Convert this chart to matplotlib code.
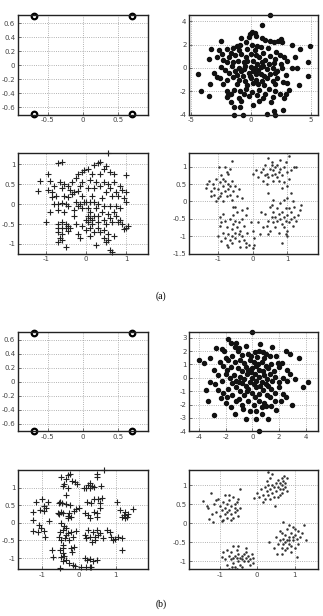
import numpy as np
import matplotlib
matplotlib.use('Agg')
import matplotlib.pyplot as plt
from matplotlib.ticker import FormatStrFormatter

# corner points (top-left panels of (a) and (b))
corner_x = [-0.7, 0.7, -0.7, 0.7]
corner_y = [0.7, 0.7, -0.7, -0.7]

# (a) top-right: filled dots
a2_pts = [(1.6,4.5),(0.9,3.7),(-0.1,2.9),(0.1,3.05),(0.3,3.0),(-0.2,2.65),(0.4,2.7),(-0.8,2.6),(0.9,2.55),(1.2,2.4),
          (2.5,2.5),(2.3,2.3),(-2.5,2.3),(1.6,2.3),(2.6,2.2),(-1.5,1.7),(-1.2,1.9),(-0.9,2.0),(-0.4,2.2),(0.1,2.0),
          (0.5,1.9),(0.8,1.8),(1.9,2.2),(1.4,1.7),(3.4,2.0),(-3.3,1.6),(-2.7,1.5),(-2.0,1.6),(-1.0,1.5),(-0.3,1.6),
          (0.3,1.5),(1.0,1.3),(2.1,1.4),(4.1,1.6),(4.9,1.9),(-2.4,1.2),(-1.7,1.3),(-2.85,0.95),(-3.5,0.8),(-2.3,0.7),
          (-1.8,0.9),(-1.3,1.1),(-0.8,1.2),(-0.4,0.9),(0.0,1.2),(0.4,1.1),(0.7,0.9),(1.2,0.7),(1.6,1.0),(2.0,0.8),
          (2.4,1.1),(2.8,0.9),(3.7,0.9),(3.0,0.6),(-1.1,0.6),(-0.6,0.5),(0.2,0.6),(0.9,0.5),(1.5,0.3),(-2.0,0.5),
          (2.5,0.3),(4.8,0.5),(-2.5,0.1),(-2.2,-0.2),(-1.6,0.2),(-1.0,0.0),(-0.5,0.2),(0.0,0.1),(0.3,0.0),(0.6,-0.2),
          (1.0,0.2),(1.3,-0.1),(1.8,0.0),(2.2,-0.3),(2.6,0.0),(3.4,0.0),(3.85,0.0),(-4.4,-0.5),(-3.1,-0.4),(-1.8,-0.4),
          (-1.3,-0.3),(-0.8,-0.3),(-0.2,-0.4),(0.2,-0.3),(0.8,-0.5),(1.6,-0.5),(2.0,-0.4),(-0.6,-0.1),(0.5,0.3),(4.8,-0.65),
          (-2.8,-0.8),(2.9,-0.6),(-2.6,-0.9),(-2.0,-1.0),(-1.5,-0.8),(-1.0,-1.0),(-0.5,-1.1),(0.0,-0.9),(0.4,-1.0),(0.9,-1.1),
          (1.3,-0.9),(1.8,-1.1),(2.2,-0.9),(2.7,-1.2),(-3.4,-1.4),(-2.3,-1.4),(-1.2,-1.4),(-0.3,-1.5),(0.6,-1.4),(1.1,-1.5),
          (2.0,-1.4),(4.0,-1.5),(3.0,-1.3),(-0.7,-0.7),(0.2,-1.3),(-2.0,-2.0),(-1.9,-2.3),(-1.7,-2.2),(-1.4,-1.9),(-0.9,-2.0),
          (-0.4,-1.8),(0.1,-2.1),(0.7,-1.9),(1.2,-2.2),(1.5,-1.8),(2.0,-2.0),(2.4,-2.2),(3.2,-1.85),(2.9,-2.25),(-4.2,-2.0),
          (-3.5,-2.4),(-2.0,-2.5),(-1.0,-2.6),(-0.2,-2.4),(0.5,-2.3),(1.0,-2.6),(1.8,-2.5),(2.8,-2.6),(-0.6,-2.2),(-1.4,-3.35),
          (-0.9,-3.3),(0.2,-3.2),(-1.4,-4.0),(-0.7,-4.0),(1.3,-3.9),(1.9,-3.7),(2.7,-3.6),(2.0,-4.0),(-0.8,-2.8),(0.7,-2.8),
          (1.7,-2.9),(-1.7,-2.9),(-0.3,0.6),(0.8,0.1),(-1.2,-0.6),(1.1,-0.7),(-0.1,-0.7),(0.4,-0.5),(-1.5,0.5),(1.9,0.4)]

# (a) bottom-left: plus markers
a3_pts = [(0.55,1.28),(-0.7,1.02),(-0.6,1.06),(0.35,1.05),(0.3,1.02),(0.2,0.97),(0.5,0.95),(0.05,0.88),(-0.05,0.85),(0.45,0.88),
          (0.6,0.8),(0.7,0.75),(-0.95,0.75),(-0.2,0.75),(-0.1,0.8),(0.15,0.75),(0.35,0.75),(1.0,0.73),(-1.15,0.57),(-0.9,0.57),
          (-0.65,0.55),(-0.55,0.5),(-0.35,0.55),(-0.25,0.65),(-0.1,0.55),(0.1,0.6),(0.25,0.55),(0.45,0.55),(0.55,0.5),(0.7,0.55),
          (0.85,0.45),(-0.8,0.45),(-0.6,0.4),(-0.45,0.45),(-0.15,0.45),(0.05,0.4),(0.2,0.4),(0.35,0.45),(0.6,0.4),(0.9,0.35),
          (1.0,0.3),(-1.2,0.33),(-0.95,0.35),(-0.85,0.3),(-0.4,0.35),(-0.3,0.3),(-0.2,0.33),(-0.35,0.25),(0.5,0.3),(0.75,0.3),
          (-0.85,0.18),(-0.75,0.2),(-0.55,0.2),(-0.45,0.18),(-0.1,0.2),(0.15,0.2),(0.4,0.15),(0.65,0.2),(0.8,0.2),(0.95,0.15),
          (1.0,0.05),(-0.8,0.0),(-0.7,0.0),(-0.6,0.02),(-0.5,0.0),(-0.45,-0.05),(-0.25,0.05),(-0.15,0.0),(-0.05,0.05),(0.0,0.05),
          (0.1,0.05),(0.2,0.05),(0.3,0.0),(-0.2,-0.05),(-0.1,-0.1),(0.05,-0.1),(0.25,-0.1),(0.45,-0.05),(0.6,-0.05),(0.75,-0.05),
          (0.85,-0.1),(-0.9,-0.2),(-0.7,-0.15),(-0.55,-0.2),(-0.3,-0.15),(0.1,-0.2),(0.4,-0.2),(0.55,-0.25),(0.7,-0.2),(0.05,-0.3),
          (0.1,-0.35),(0.15,-0.4),(0.2,-0.3),(0.3,-0.3),(0.45,-0.4),(0.6,-0.35),(0.75,-0.3),(0.85,-0.4),(-0.3,-0.3),(0.0,-0.4),
          (0.05,-0.45),(0.15,-0.5),(0.3,-0.45),(0.5,-0.5),(0.65,-0.45),(0.8,-0.45),(0.9,-0.5),(-1.0,-0.45),(-0.7,-0.5),(-0.6,-0.45),
          (-0.5,-0.5),(-0.45,-0.55),(-0.25,-0.5),(-0.1,-0.55),(0.3,-0.6),(0.45,-0.65),(1.0,-0.6),(1.05,-0.55),(0.95,-0.62),(-0.7,-0.6),
          (-0.6,-0.6),(-0.5,-0.6),(-0.4,-0.6),(0.0,-0.65),(0.1,-0.6),(0.2,-0.7),(0.35,-0.7),(0.55,-0.75),(0.7,-0.8),(-0.7,-0.7),
          (-0.6,-0.75),(-0.45,-0.68),(-0.2,-0.75),(0.1,-0.8),(-0.65,-0.85),(-0.6,-0.9),(-0.7,-0.95),(-0.15,-0.85),(0.45,-0.85),(0.55,-0.9),
          (-0.5,-1.08),(0.25,-1.02),(0.6,-1.15),(0.65,-1.2),(0.5,-0.95)]

# (a) bottom-right: small dots, four loose groups
a4_pts = [(-1.35,0.4),(-1.25,0.6),(-1.2,0.3),(-1.15,0.5),(-1.1,0.2),(-1.05,0.65),(-1.0,0.35),(-1.0,0.1),(-0.95,0.55),(-0.9,0.25),
          (-0.9,0.75),(-0.85,0.45),(-0.85,0.0),(-0.8,0.6),(-0.8,0.3),(-0.75,0.15),(-0.75,0.85),(-0.7,0.5),(-0.7,0.35),(-0.65,0.2),
          (-0.65,0.95),(-0.6,0.6),(-0.6,0.05),(-0.55,0.3),(-0.5,0.45),(-0.5,-0.15),(-0.45,0.15),(-0.4,0.35),(-1.1,0.4),(-1.05,0.0),
          (-0.95,0.15),(-1.2,0.15),(-0.6,1.17),(-0.96,1.0),(-0.78,1.0),(-0.7,0.8),(-0.85,0.65),(-1.3,0.5),(-0.3,0.1),(-0.55,-0.15),
          (-0.65,0.45),
          (0.25,0.85),(0.3,0.6),(0.35,1.05),(0.4,0.8),(0.45,1.25),(0.45,0.7),(0.5,0.95),(0.55,0.75),(0.55,1.15),(0.6,0.9),
          (0.6,0.6),(0.65,0.8),(0.7,1.05),(0.7,0.7),(0.75,0.85),(0.8,1.2),(0.8,0.95),(0.85,0.75),(0.9,1.0),(0.9,0.55),
          (0.95,1.15),(1.0,0.85),(1.05,0.65),(1.05,1.3),(1.1,0.9),(1.2,1.0),(1.25,1.0),(0.1,0.9),(0.15,0.7),(0.0,0.8),
          (0.4,0.5),(0.45,0.25),(1.1,0.25),(0.55,1.05),(0.3,0.95),(0.65,1.0),(0.85,0.4),(1.0,0.45),(0.35,0.75),(0.75,0.6),
          (-1.0,-1.0),(-0.95,-0.7),(-0.9,-0.6),(-0.9,-1.15),(-0.85,-0.9),(-0.8,-1.05),(-0.8,-0.55),(-0.75,-1.25),(-0.75,-0.75),(-0.7,-0.95),
          (-0.7,-1.3),(-0.65,-0.5),(-0.65,-1.1),(-0.6,-0.8),(-0.6,-1.2),(-0.55,-0.65),(-0.55,-0.4),(-0.5,-0.9),(-0.5,-1.05),(-0.45,-0.75),
          (-0.45,-0.3),(-0.4,-1.15),(-0.4,-0.6),(-0.35,-1.3),(-0.35,-0.85),(-0.3,-1.0),(-0.3,-0.5),(-0.25,-0.7),(-0.2,-1.2),(-0.2,-0.4),
          (-0.15,-0.9),(-0.1,-1.25),(-0.05,-0.6),(0.0,-1.35),(0.0,-0.85),(0.05,-1.05),(-0.3,-0.25),(-0.15,-0.2),(-0.85,-0.35),(-0.6,-1.0),
          (-0.5,-0.55),(-0.4,-0.95),(-0.2,-1.3),(0.05,-1.25),(-0.25,-1.1),(-0.95,-0.45),
          (0.35,-0.35),(0.4,-0.7),(0.45,-0.55),(0.5,-0.15),(0.5,-0.85),(0.55,-0.45),(0.6,-0.6),(0.6,-0.3),(0.65,-0.75),(0.65,-0.45),
          (0.7,-0.2),(0.7,-0.55),(0.75,-0.9),(0.75,-0.35),(0.8,-0.5),(0.8,-0.05),(0.85,-0.65),(0.85,-0.3),(0.9,-0.45),(0.9,-0.75),
          (0.95,-0.2),(0.95,-0.55),(1.0,-0.4),(1.0,-0.85),(1.05,-0.6),(1.1,-0.3),(1.1,-0.5),(1.15,-0.7),(1.2,-0.45),(1.2,-0.15),
          (1.25,-0.55),(1.3,-0.4),(1.35,-0.25),(1.4,-0.1),(1.15,0.0),(1.0,0.1),(0.9,0.05),(0.6,0.05),(0.3,-0.75),(0.2,-0.95),
          (0.15,-0.6),(0.85,-1.2),(1.0,-1.0),(0.55,-0.1),(0.25,-0.3),(0.45,-0.95),(1.05,-0.2),(0.95,-0.95)]

# (b) top-right: filled dots
b2_pts = [(0.0,3.43),(-1.8,2.9),(-1.6,2.6),(-1.2,2.6),(-0.5,2.4),(0.6,2.5),(-1.0,2.2),(-1.3,2.3),(1.5,2.3),(2.5,2.0),
          (2.8,1.8),(-2.7,2.25),(-2.3,2.15),(-2.1,2.0),(-1.1,2.0),(-0.8,1.7),(-0.3,1.8),(0.2,1.9),(0.5,2.0),(0.8,1.9),
          (1.0,1.8),(1.3,1.6),(-0.1,1.6),(0.35,1.55),(-1.5,1.6),(-2.0,1.5),(0.9,1.5),(1.8,1.6),(3.5,1.45),(-3.2,1.45),
          (-3.6,1.1),(-4.0,1.3),(-2.9,0.6),(-2.4,1.2),(-1.8,1.3),(-1.3,1.2),(-0.9,1.3),(-0.6,1.1),(-0.2,1.3),(0.1,1.2),
          (0.4,1.0),(0.7,1.2),(1.0,0.9),(1.4,1.0),(1.9,1.1),(2.2,1.1),(-2.2,0.9),(-1.6,0.8),(-1.1,0.7),(-0.5,0.8),
          (0.0,0.7),(0.5,0.6),(0.8,0.5),(1.2,0.7),(1.6,0.5),(2.0,0.8),(2.6,0.6),(-1.9,0.6),(-0.8,0.5),(-0.3,0.55),
          (0.3,0.9),(-3.2,-0.3),(-2.6,0.2),(-2.3,-0.2),(-2.0,0.3),(-1.7,0.0),(-1.4,0.2),(-1.2,-0.2),(-0.9,0.1),(-0.6,-0.1),
          (-0.4,0.3),(-0.2,-0.3),(0.0,0.0),(0.2,0.3),(0.3,-0.2),(0.5,0.1),(0.7,-0.3),(0.9,0.2),(1.1,-0.1),(1.3,0.3),
          (1.5,-0.2),(1.7,0.1),(2.0,-0.3),(2.3,0.0),(2.6,-0.2),(3.2,-0.05),(4.2,-0.3),(-0.8,-0.4),(0.1,-0.45),(1.0,-0.45),
          (-1.5,-0.4),(2.8,0.3),(-2.8,-0.45),(-3.45,-0.9),(-2.6,-0.9),(-2.2,-1.1),(-1.8,-0.8),(-1.5,-1.3),(-1.2,-0.7),(-0.9,-1.0),
          (-0.6,-1.3),(-0.3,-0.8),(0.0,-1.1),(0.3,-0.7),(0.5,-1.2),(0.8,-0.9),(1.1,-1.3),(1.4,-0.8),(1.7,-1.1),(2.0,-0.7),
          (2.3,-1.2),(3.8,-0.7),(-1.9,-1.4),(1.3,-1.4),(0.2,-1.4),(-0.5,-0.6),(2.5,-1.4),(-3.3,-1.7),(-2.35,-1.5),(2.15,-1.7),
          (2.95,-2.05),(-2.0,-1.9),(-1.6,-2.2),(-1.2,-1.7),(-0.8,-2.0),(-0.3,-1.7),(0.1,-2.0),(0.5,-1.7),(0.9,-1.9),(1.4,-2.1),
          (1.7,-1.7),(-0.7,-2.3),(0.7,-2.2),(1.0,-2.1),(-0.2,-2.5),(0.3,-2.5),(-1.0,-1.6),(1.8,-2.4),(-2.85,-2.75),(1.2,-3.05),
          (0.3,-3.05),(-0.5,-3.05),(0.5,-4.0),(0.7,-2.7),(-1.3,-2.7),(-0.1,0.4),(0.6,-0.6),(-1.0,-0.3),(1.2,-0.6),(-0.4,-1.0)]

# (b) bottom-left: plus markers, clumped
b3_pts = [(-0.5,1.3),(-0.3,1.35),(-0.25,1.4),(-0.35,1.25),(-0.4,1.1),(-0.3,1.0),(-0.45,1.05),(-0.2,1.2),(-0.35,0.8),(-0.1,1.15),
          (-0.05,1.1),(0.2,1.0),(0.25,1.08),(0.3,1.12),(0.35,1.05),(0.3,0.98),(0.4,1.02),(0.6,1.05),(0.5,1.3),(0.15,1.0),
          (0.5,1.39),(0.69,1.5),(-1.18,0.6),(-1.0,0.67),(-0.84,0.58),(-1.27,0.32),(-1.07,0.37),(-0.95,0.35),(-0.9,0.42),(-0.97,0.48),
          (-0.52,0.58),(-0.46,0.56),(-0.35,0.54),(-0.24,0.51),(-0.54,0.55),(-0.58,0.29),(-0.5,0.31),(-0.44,0.27),(-0.55,0.25),(-0.26,0.29),
          (-0.21,0.18),(-0.3,0.13),(-0.15,0.35),(0.0,0.42),(-0.07,0.4),(0.22,0.58),(0.34,0.56),(0.41,0.67),(0.53,0.68),(0.57,0.56),
          (0.41,0.32),(0.48,0.27),(0.5,0.18),(0.16,0.27),(0.25,0.23),(0.29,0.13),(0.57,0.42),(1.03,0.58),(1.12,0.37),(1.26,0.32),
          (1.22,0.23),(1.26,0.13),(1.17,0.18),(1.31,0.18),(1.49,0.39),(1.35,0.25),(-1.27,0.07),(-1.1,-0.06),(-1.04,-0.15),(-1.27,-0.23),
          (-1.13,-0.27),(-0.95,-0.22),(-0.92,-0.39),(-0.83,0.06),(-0.53,-0.25),(-0.44,-0.2),(-0.35,-0.15),(-0.3,-0.29),(-0.21,-0.25),(-0.17,-0.41),
          (-0.26,-0.48),(-0.39,-0.43),(-0.49,-0.48),(-0.35,-0.34),(-0.07,-0.23),(-0.44,-0.62),(0.25,-0.2),(0.39,-0.25),(0.48,-0.2),(0.53,-0.34),
          (0.44,-0.41),(0.29,-0.41),(0.57,-0.29),(0.16,-0.34),(0.2,-0.43),(0.66,-0.43),(0.77,-0.2),(0.85,-0.25),(0.89,-0.39),(0.99,-0.46),
          (1.08,-0.41),(1.17,-0.43),(0.94,-0.48),(1.17,-0.76),(-0.74,-0.76),(-0.72,-0.97),(-0.53,-0.76),(-0.44,-0.86),(-0.4,-0.93),(-0.49,-0.97),
          (-0.44,-1.07),(-0.35,-1.05),(-0.26,-1.14),(-0.17,-1.19),(-0.12,-1.22),(-0.53,-1.28),(-0.21,-0.72),(-0.15,-0.69),(-0.18,-0.84),(0.16,-1.0),
          (0.22,-1.05),(0.29,-1.03),(0.39,-1.09),(0.48,-1.05),(0.2,-1.24),(0.29,-1.25),(0.06,-1.25),(0.34,-1.24),(0.62,0.7),(-0.48,0.0),
          (-0.4,-0.1),(-0.55,-0.4),(0.35,-0.55),(0.45,-0.5),(-0.45,-0.7),(-0.3,0.2)]

# (b) bottom-right: small dots, four tight groups
b4_pts = [(-1.44,0.59),(-1.22,0.79),(-0.46,0.89),(-1.28,0.12),(-1.17,0.04),(-1.3,0.4),(-1.15,0.5),(-1.1,0.3),(-1.05,0.65),(-1.0,0.45),
          (-1.0,0.2),(-0.95,0.35),(-0.9,0.55),(-0.9,0.1),(-0.85,0.4),(-0.85,0.25),(-0.8,0.5),(-0.8,0.15),(-0.75,0.35),(-0.75,0.6),
          (-0.7,0.25),(-0.7,0.45),(-0.65,0.7),(-0.65,0.15),(-0.6,0.4),(-0.6,0.3),(-0.55,0.55),(-0.5,0.2),(-0.5,0.65),(-0.45,0.4),
          (-0.85,0.75),(-0.75,0.75),(-1.2,0.25),(-0.95,0.05),(-0.7,0.1),(-1.35,0.45),(-0.6,0.5),(-0.8,0.3),(-1.1,0.6),(-0.55,0.35),
          (0.29,1.36),(0.71,1.25),(0.47,0.45),(-0.09,0.67),(0.0,0.8),(0.05,0.7),(0.1,0.9),(0.15,0.75),(0.2,0.95),(0.2,0.65),
          (0.25,0.85),(0.3,1.0),(0.3,0.75),(0.35,1.2),(0.35,0.9),(0.4,1.0),(0.4,0.8),(0.45,0.95),(0.5,1.05),(0.5,0.85),
          (0.55,0.95),(0.55,1.15),(0.6,0.9),(0.6,1.05),(0.65,1.0),(0.65,0.8),(0.7,1.1),(0.7,0.9),(0.75,0.95),(0.75,1.05),
          (0.8,0.85),(0.8,1.2),(0.4,1.3),(0.25,1.1),(0.15,0.55),(0.45,0.7),(0.6,0.75),(0.35,0.65),(0.55,0.7),(0.65,1.2),
          (0.68,0.04),(1.24,-0.05),(0.32,-0.5),(0.53,-0.8),(1.05,-0.89),(0.5,-0.35),(0.55,-0.55),(0.6,-0.45),(0.65,-0.25),(0.65,-0.65),
          (0.7,-0.4),(0.7,-0.55),(0.75,-0.3),(0.75,-0.7),(0.8,-0.45),(0.8,-0.15),(0.85,-0.55),(0.85,-0.35),(0.9,-0.6),(0.9,-0.25),
          (0.95,-0.45),(0.95,-0.1),(1.0,-0.3),(1.0,-0.65),(1.05,-0.4),(1.1,-0.2),(1.1,-0.55),(1.15,-0.35),(1.2,-0.25),(0.6,-0.2),
          (0.85,-0.05),(0.9,-0.75),(0.45,-0.65),(0.75,-0.5),(0.95,-0.35),(1.3,-0.45),(0.8,-0.65),(0.65,-0.8),(1.0,-0.15),(0.85,-0.45),
          (-0.91,-0.76),(-0.95,-0.89),(-0.66,-1.16),(-0.85,-0.95),(-0.8,-0.7),(-0.8,-1.1),(-0.75,-0.85),(-0.7,-0.95),(-0.7,-0.75),(-0.65,-1.05),
          (-0.6,-0.85),(-0.6,-1.15),(-0.55,-0.9),(-0.55,-0.7),(-0.5,-1.0),(-0.5,-0.8),(-0.45,-0.9),(-0.45,-1.1),(-0.4,-0.85),(-0.4,-0.95),
          (-0.35,-0.8),(-0.35,-1.0),(-0.3,-0.9),(-0.3,-0.75),(-0.25,-0.85),(-0.25,-1.0),(-0.2,-0.95),(-0.15,-0.8),(-0.1,-0.9),(-0.5,-0.6),
          (-0.65,-0.6),(-0.4,-1.15),(-0.55,-1.2),(-0.2,-1.1),(-0.75,-1.2),(-0.1,-1.05),(-0.3,-0.65),(-0.65,-0.9)]

# MATLAB-ish look
plt.rcParams['font.family'] = 'DejaVu Sans'
plt.rcParams['xtick.direction'] = 'in'
plt.rcParams['ytick.direction'] = 'in'

fig = plt.figure(figsize=(3.23, 6.16), dpi=100)

colx = [18/323, 189.3/323]
colw = [130/323, 128.7/323]
rows = [(15.3, 114.7), (153.3, 253.5), (332, 431.3), (470, 569)]


def make_ax(r, c, xlim, ylim, xt, yt):
    top, bot = rows[r]
    ax = fig.add_axes([colx[c], 1 - bot/616, colw[c], (bot - top)/616])
    ax.set_xlim(xlim)
    ax.set_ylim(ylim)
    ax.set_xticks(xt)
    ax.set_yticks(yt)
    ax.xaxis.set_major_formatter(FormatStrFormatter('%g'))
    ax.yaxis.set_major_formatter(FormatStrFormatter('%g'))
    ax.tick_params(labelsize=5, colors='#444444', length=2, width=0.5, pad=2)
    ax.grid(True, linestyle=':', color='#999999', linewidth=0.6)
    for s in ax.spines.values():
        s.set_linewidth(1.0)
        s.set_color('#222222')
    return ax


def pts(p):
    a = np.array(p)
    return a[:, 0], a[:, 1]


yt6 = [-0.6, -0.4, -0.2, 0, 0.2, 0.4, 0.6]

# ---- (a) ----
ax = make_ax(0, 0, (-0.92, 0.92), (-0.71, 0.71), [-0.5, 0, 0.5], yt6)
ax.plot(corner_x, corner_y, 'o', ms=4, mfc='none', mec='black', mew=1.6, clip_on=False, ls='none')

ax = make_ax(0, 1, (-5.15, 5.6), (-4, 4.5), [-5, 0, 5], [-4, -2, 0, 2, 4])
x, y = pts(a2_pts)
ax.plot(x, y, 'o', ms=2.9, color='#111111', ls='none', clip_on=False)

ax = make_ax(1, 0, (-1.7, 1.55), (-1.24, 1.275), [-1, 0, 1], [-1, -0.5, 0, 0.5, 1])
x, y = pts(a3_pts)
ax.plot(x, y, '+', ms=4.3, mew=0.8, color='#222222', ls='none', clip_on=False)

ax = make_ax(1, 1, (-1.82, 1.88), (-1.5, 1.39), [-1, 0, 1], [-1.5, -1, -0.5, 0, 0.5, 1])
x, y = pts(a4_pts)
ax.plot(x, y, '.', ms=1.6, color='#333333', ls='none')

fig.text(0.498, 1 - 296/616, '(a)', ha='center', va='center', fontsize=7, family='Liberation Serif')

# ---- (b) ----
ax = make_ax(2, 0, (-0.92, 0.92), (-0.71, 0.71), [-0.5, 0, 0.5], yt6)
ax.plot(corner_x, corner_y, 'o', ms=4, mfc='none', mec='black', mew=1.6, clip_on=False, ls='none')

ax = make_ax(2, 1, (-4.74, 4.94), (-4, 3.43), [-4, -2, 0, 2, 4], [-4, -3, -2, -1, 0, 1, 2, 3])
x, y = pts(b2_pts)
ax.plot(x, y, 'o', ms=2.9, color='#111111', ls='none', clip_on=False)

ax = make_ax(3, 0, (-1.67, 1.89), (-1.31, 1.5), [-1, 0, 1], [-1, -0.5, 0, 0.5, 1])
x, y = pts(b3_pts)
ax.plot(x, y, '+', ms=4.3, mew=0.8, color='#222222', ls='none', clip_on=False)

ax = make_ax(3, 1, (-1.81, 1.62), (-1.2, 1.4), [-1, 0, 1], [-1, -0.5, 0, 0.5, 1])
x, y = pts(b4_pts)
ax.plot(x, y, '.', ms=1.6, color='#333333', ls='none')

fig.text(0.498, 1 - 604/616, '(b)', ha='center', va='center', fontsize=7, family='Liberation Serif')

fig.savefig('out.png', dpi=100)
